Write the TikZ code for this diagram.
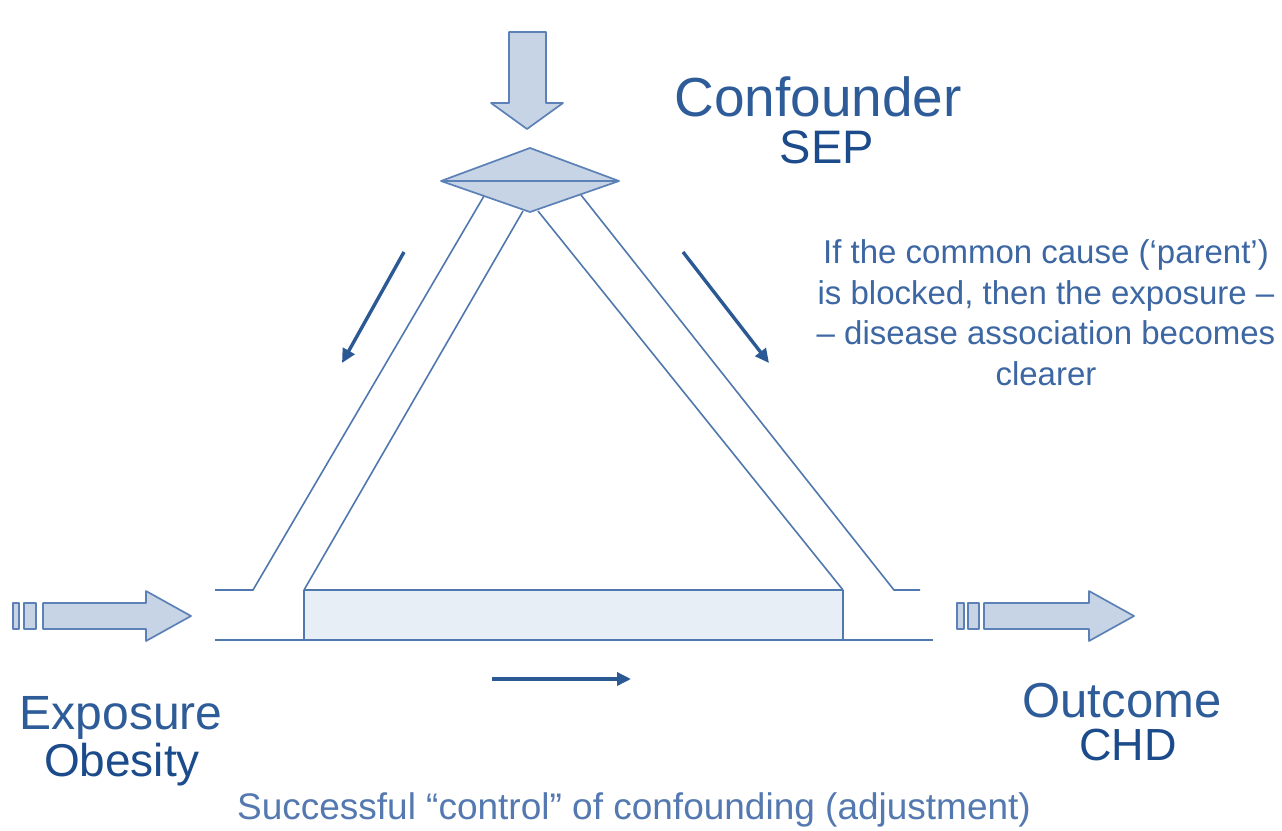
\documentclass[tikz,border=0pt]{standalone}
\usepackage{fontspec}
\setmainfont{Liberation Sans}
\usetikzlibrary{arrows.meta}

\definecolor{edgeblue}{HTML}{5078AE}
\definecolor{arrowedge}{HTML}{5C81B6}
\definecolor{arrowfill}{HTML}{C7D4E6}
\definecolor{boxfill}{HTML}{E8EEF6}
\definecolor{flowblue}{HTML}{2A5994}
\definecolor{headblue}{HTML}{2E5C98}
\definecolor{namedblue}{HTML}{1C4B8B}
\definecolor{noteblue}{HTML}{3D67A3}
\definecolor{captionblue}{HTML}{5479B0}

\tikzset{
  blockarrow/.style={draw=arrowedge, fill=arrowfill, line width=1.7pt, line join=round},
  wall/.style={draw=edgeblue, line width=1.6pt, line join=miter},
  flow/.style={draw=flowblue, line width=3.4pt, -{Triangle[length=14pt,width=13pt]}},
  heading/.style={text=headblue, inner sep=0pt, anchor=base, font=\fontsize{55}{60}\selectfont},
  subject/.style={text=namedblue, inner sep=0pt, anchor=base, font=\fontsize{47}{52}\selectfont},
}

\begin{document}
\begin{tikzpicture}[x=1pt,y=-1pt]
\useasboundingbox[fill=white] (0,0) rectangle (1282,830);

% ---- confounder: incoming block arrow and the blocking diamond
\coordinate (dl) at (441,181);
\coordinate (dt) at (530,148);
\coordinate (dr) at (619,181);
\coordinate (db) at (530,212);

\path[blockarrow] (509,32) -- (546,32) -- (546,103) -- (563,103) -- (527,129)
  -- (491,103) -- (509,103) -- cycle;
\path[blockarrow] (dl) -- (dt) -- (dr) -- (db) -- cycle;
\draw[draw=arrowedge, line width=2.4pt] (dl) -- (dr);

% ---- the two legs of the triangle (double walls)
\coordinate (lo1) at (484,196);
\coordinate (lo2) at (253,590);
\coordinate (li1) at (523,211);
\coordinate (li2) at (304,590);
\coordinate (ri1) at (538,211);
\coordinate (ri2) at (843,590);
\coordinate (ro1) at (581,195);
\coordinate (ro2) at (894,590);

\draw[wall] (215,590) -- (lo2) -- (lo1);
\draw[wall] (li1) -- (li2);
\draw[wall] (ri1) -- (ri2);
\draw[wall] (ro1) -- (ro2) -- (920,590);

% ---- the base channel between exposure and outcome
\path[fill=boxfill] (li2) rectangle (843,640);
\draw[wall] (li2) -- (ri2);
\draw[wall] (li2) -- (304,640);
\draw[wall] (ri2) -- (843,640);
\draw[wall] (215,640) -- (933,640);

% ---- exposure input arrow
\path[blockarrow] (13,603) rectangle (19,629);
\path[blockarrow] (24,603) rectangle (36,629);
\path[blockarrow] (43,603) -- (146,603) -- (146,591) -- (191,616) -- (146,641)
  -- (146,629) -- (43,629) -- cycle;

% ---- outcome output arrow
\path[blockarrow] (957,603) rectangle (964,629);
\path[blockarrow] (968,603) rectangle (979,629);
\path[blockarrow] (984,603) -- (1089,603) -- (1089,591) -- (1134,616) -- (1089,641)
  -- (1089,629) -- (984,629) -- cycle;

% ---- direction of flow along each path
\coordinate (fl1) at (404,252);
\coordinate (fl2) at (342,363);
\coordinate (fr1) at (683,252);
\coordinate (fr2) at (769,363);
\coordinate (fb1) at (492,679);
\coordinate (fb2) at (631,679);
\draw[flow] (fl1) -- (fl2);
\draw[flow] (fr1) -- (fr2);
\draw[flow] (fb1) -- (fb2);

% ---- labels
\node[heading] (conf) at (818,116) {Confounder};
\node[subject] (sep) at (827,163) {SEP};

\node[heading, font=\fontsize{48}{52}\selectfont] (expo) at (121,729) {Exposure};
\node[subject, font=\fontsize{46}{50}\selectfont] (obes) at (122,776) {Obesity};

\node[heading, font=\fontsize{49}{52}\selectfont] (outc) at (1122,717) {Outcome};
\node[subject, font=\fontsize{45}{50}\selectfont] (chd) at (1128,760) {CHD};

% multi-line node: the base anchor sits on the last line
\node[text=noteblue, inner sep=0pt, anchor=base, align=center,
      font=\fontsize{33}{40.5}\selectfont] (note) at (1046,385)
  {If the common cause (‘parent’)\\is blocked, then the exposure –\\– disease association becomes\\clearer};

\node[text=captionblue, inner sep=0pt, anchor=base,
      font=\fontsize{37}{42}\selectfont] (cap) at (634,819)
  {Successful “control” of confounding (adjustment)};
\end{tikzpicture}
\end{document}
